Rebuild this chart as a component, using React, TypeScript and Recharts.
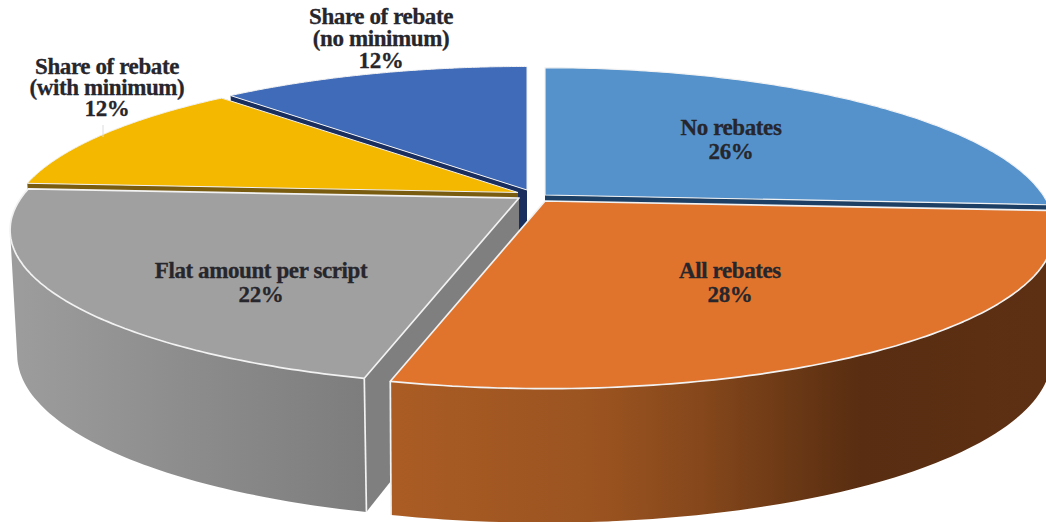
import React from "react";
import { PieChart, Pie } from "recharts";

// Slices listed anticlockwise from the "No rebates" wedge, so they paint back to front.
const categories = [
  "No rebates",
  "Share of rebate\n(no minimum)",
  "Share of rebate\n(with minimum)",
  "Flat amount per script",
  "All rebates",
];
const shares = [26, 12, 12, 22, 28];
const tableRows = categories.map((name, i) => ({ name, value: shares[i] }));

const WIDTH = 1046;
const HEIGHT = 522;

// Tilt of the disc: vertical squash and perspective strength.
const SQUASH = 149 / 498;
const PERSPECTIVE = 0.206;
const DEPTH = 122;
const DEPTH_FRONT = 12;

type Look = {
  top: string;
  cut: string;
  edge: number;
  shift: [number, number];
  reach: number;
  shrink: number;
  wall: [number, string][];
  label: [number, number];
  lineGap: number;
};

const looks: Look[] = [
  { top: "#5592cb", cut: "#1d3f63", edge: 1.2, shift: [18, -1], reach: 1.03, shrink: 0.986, wall: [[0, "#1d3f63"], [1, "#1d3f63"]], label: [204, -61], lineGap: 24 },
  { top: "#406bb8", cut: "#1a2f5e", edge: 1, shift: [0, -6], reach: 1, shrink: 0.986, wall: [[0, "#2a4678"], [1, "#2a4678"]], label: [-146, -172], lineGap: 22 },
  { top: "#f4b800", cut: "#7a5c10", edge: 1, shift: [-9, -3.5], reach: 1, shrink: 0.986, wall: [[0, "#8a6a08"], [1, "#8a6a08"]], label: [-420, -122], lineGap: 21 },
  { top: "#a0a0a0", cut: "#7f7f7f", edge: 1.7, shift: [-8, 2], reach: 1, shrink: 0.986, wall: [[0, "#9c9c9c"], [0.16, "#8d8d8d"], [0.345, "#7d7d7d"]], label: [-266, 82], lineGap: 24 },
  { top: "#e0742d", cut: "#a85b23", edge: 1.7, shift: [18, 5], reach: 1, shrink: 0.995, wall: [[0.35, "#aa5c24"], [0.557, "#9a5320"], [0.658, "#85471b"], [0.75, "#6a3815"], [0.818, "#582d11"], [1, "#5e3013"]], label: [203, 82], lineGap: 24 },
];

const EDGE = "#f2f2f2";
const RAD = Math.PI / 180;

type Pt = { x: number; y: number };

// Four corners wound the same way, so overlapping strips never cancel under the nonzero rule.
function clockwise(pts: Pt[]): Pt[] {
  let area = 0;
  pts.forEach((p, i) => {
    const q = pts[(i + 1) % pts.length];
    area += p.x * q.y - q.x * p.y;
  });
  return area < 0 ? [...pts].reverse() : pts;
}

function Slice3D(props: any) {
  const { cx, cy, outerRadius, startAngle, endAngle, index } = props;
  const look = looks[index];
  const ax = cx + look.shift[0];
  const ay = cy + look.shift[1];

  // Ground-plane direction for a polar angle, projected to the upper face.
  const onTop = (deg: number, r = 1) => {
    const u = Math.cos(deg * RAD) * r;
    const v = -Math.sin(deg * RAD) * r;
    const w = 1 / (1 - PERSPECTIVE * v);
    return { x: ax + outerRadius * u * w, y: ay + outerRadius * SQUASH * look.reach * v * w, v };
  };
  const onBase = (deg: number, r = 1) => {
    const p = onTop(deg, r);
    return { x: ax + (p.x - ax) * look.shrink, y: p.y + DEPTH + DEPTH_FRONT * p.v, v: p.v };
  };

  const steps = 120;
  const sweep: number[] = [];
  for (let i = 0; i <= steps; i++) sweep.push(startAngle + ((endAngle - startAngle) * i) / steps);

  const toD = (pts: Pt[]) =>
    pts.map((p, i) => `${i ? "L" : "M"}${p.x.toFixed(1)} ${p.y.toFixed(1)}`).join(" ") + " Z";

  const rimTop = sweep.map((a) => onTop(a));
  const rimBase = sweep.map((a) => onBase(a));
  const hub = onTop(0, 0);
  const hubBase = onBase(0, 0);
  const gradId = `wall-${index}`;

  // The outer wall is a run of overlapping strips, front half of the disc only.
  const strips: string[] = [];
  for (let i = 0; i + 2 <= steps; i++) {
    if (rimTop[i].v < 0 && rimTop[i + 2].v < 0) continue;
    strips.push(toD(clockwise([rimTop[i], rimTop[i + 2], rimBase[i + 2], rimBase[i]])));
  }

  const frontEnds = [0, steps].filter((i) => rimTop[i].v > 0.5);

  return (
    <g>
      <defs>
        <linearGradient id={gradId} gradientUnits="userSpaceOnUse" x1={ax - outerRadius} x2={ax + outerRadius} y1={0} y2={0}>
          {look.wall.map(([o, c]) => (
            <stop key={o} offset={o} stopColor={c} />
          ))}
        </linearGradient>
      </defs>
      {/* cut faces on both straight edges */}
      <path d={toD([hub, rimTop[0], rimBase[0], hubBase])} fill={look.cut} />
      <path d={toD([hub, rimTop[steps], rimBase[steps], hubBase])} fill={look.cut} />
      {/* curved outer wall */}
      {strips.length > 0 && <path d={strips.join(" ")} fill={`url(#${gradId})`} />}
      {frontEnds.map((i) => (
        <line key={i} x1={rimTop[i].x} y1={rimTop[i].y} x2={rimBase[i].x} y2={rimBase[i].y} stroke={EDGE} strokeWidth={look.edge} />
      ))}
      {/* upper face */}
      <path d={toD([hub, ...rimTop])} fill={look.top} stroke={EDGE} strokeWidth={look.edge} strokeLinejoin="round" />
    </g>
  );
}

function SliceLabel(props: any) {
  const { cx, cy, index, name, value } = props;
  const look = looks[index];
  const lines = [...String(name).split("\n"), `${value}%`];
  const x = cx + look.label[0];
  const y = cy + look.label[1];
  const gap = look.lineGap;
  return (
    <g>
      {index === 2 && <line x1={x - 4} x2={x - 4} y1={y + 51} y2={y + 63} stroke="#dcdcdc" strokeWidth={1} />}
      <text
        x={x}
        y={y}
        textAnchor="middle"
        fontFamily="'Liberation Serif', serif"
        fontWeight="bold"
        fontSize={23}
        letterSpacing={-0.4}
        fill="#26262c"
        stroke="#26262c"
        strokeWidth={0.3}
      >
        {lines.map((line, i) => (
          <tspan key={i} x={x} dy={i === 0 ? 0 : gap}>
            {line}
          </tspan>
        ))}
      </text>
    </g>
  );
}

export default function App() {
  return (
    <div style={{ position: "absolute", left: 0, top: 0, width: WIDTH, height: HEIGHT, background: "#ffffff" }}>
      <PieChart width={WIDTH} height={HEIGHT} margin={{ top: 0, right: 0, bottom: 0, left: 0 }}>
        <Pie
          data={tableRows}
          dataKey="value"
          nameKey="name"
          cx={527}
          cy={196}
          innerRadius={0}
          outerRadius={498}
          startAngle={-3.6}
          endAngle={356.4}
          stroke="none"
          isAnimationActive={false}
          shape={Slice3D}
          label={SliceLabel}
          labelLine={false}
        />
      </PieChart>
    </div>
  );
}
